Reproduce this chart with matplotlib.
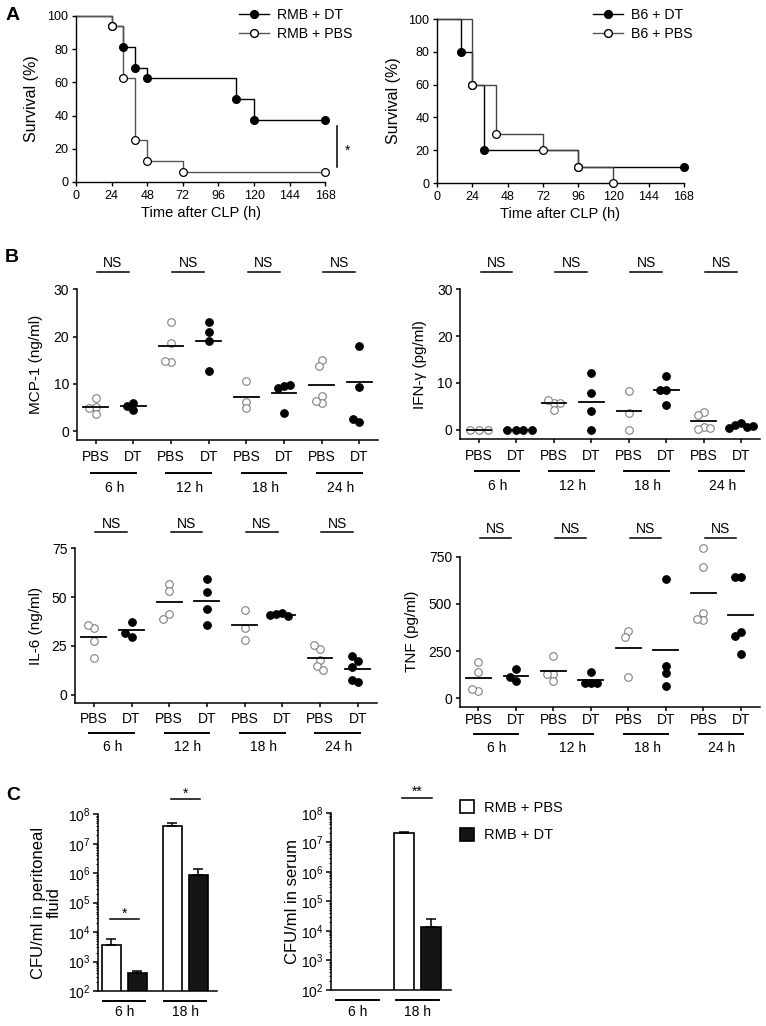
import numpy as np
import matplotlib
matplotlib.use('Agg')
import matplotlib.pyplot as plt
from matplotlib.lines import Line2D
from matplotlib.patches import Patch
import matplotlib.transforms as mtransforms
from matplotlib.ticker import LogLocator, NullFormatter, LogFormatterMathtext

plt.rcParams['font.family'] = ['Liberation Sans', 'DejaVu Sans']
plt.rcParams['mathtext.fontset'] = 'custom'
plt.rcParams['mathtext.rm'] = 'Liberation Sans'
plt.rcParams['mathtext.default'] = 'regular'

# ---------------- DATA ----------------
# Panel A: Kaplan-Meier survival (time h, survival %)
surv_xticks = [0, 24, 48, 72, 96, 120, 144, 168]
rmb_dt_t = [0, 24, 32, 40, 48, 108, 120, 168]
rmb_dt_s = [100, 93.75, 81.25, 68.75, 62.5, 50, 37.5, 37.5]
rmb_pbs_t = [0, 24, 32, 40, 48, 72, 168]
rmb_pbs_s = [100, 93.75, 62.5, 25, 12.5, 6.25, 6.25]
b6_dt_t = [0, 16, 24, 32, 96, 168]
b6_dt_s = [100, 80, 60, 20, 10, 10]
b6_pbs_t = [0, 24, 40, 72, 96, 120]
b6_pbs_s = [100, 60, 30, 20, 10, 0]

# Panel B: cytokines, per time point
time_labels = ['6 h', '12 h', '18 h', '24 h']
group_labels = ['PBS', 'DT']

mcp_pbs = [[7.0, 5.0, 4.8, 3.5], [23.0, 18.6, 14.6, 14.9], [10.6, 6.1, 4.8], [15.0, 13.8, 7.4, 6.0, 6.3]]
mcp_dt = [[6.0, 4.5, 5.3], [21.0, 23.0, 19.0, 12.8], [9.6, 9.1, 9.8, 3.8], [18.0, 9.3, 2.0, 2.5]]
mcp_mean_pbs = [5.1, 17.9, 7.3, 9.7]
mcp_mean_dt = [5.2, 19.1, 8.1, 10.4]

ifn_pbs = [[0, 0, 0], [5.7, 6.4, 5.6, 4.3], [8.2, 3.6, 0.0], [3.8, 3.2, 0.6, 0.1, 0.4]]
ifn_dt = [[0, 0, 0, 0], [12.2, 7.8, 3.9, 0.0], [8.4, 11.4, 8.4, 5.3], [1.4, 0.9, 0.6, 0.3, 0.8]]
ifn_mean_pbs = [0.0, 5.7, 3.9, 1.8]
ifn_mean_dt = [0.0, 6.0, 8.4, 0.85]

il6_pbs = [[33.9, 35.9, 27.6, 18.5], [56.6, 53.2, 41.2, 38.5], [43.3, 33.9, 28.2], [23.1, 25.2, 17.7, 14.6, 12.5]]
il6_dt = [[37.3, 29.3, 31.4], [59.0, 52.6, 44.1, 35.9], [42.0, 41.5, 40.5, 40.8], [17.0, 19.6, 14.3, 6.2, 7.4]]
il6_mean_pbs = [29.3, 47.5, 35.9, 18.9]
il6_mean_dt = [33.0, 48.1, 41.0, 12.9]

tnf_pbs = [[191, 141, 40, 48], [226, 129, 129, 93], [358, 326, 111], [794, 697, 453, 415, 419]]
tnf_dt = [[153, 93, 111], [138, 79, 79, 79], [632, 173, 136, 67], [644, 644, 353, 332, 235]]
tnf_mean_pbs = [106, 146, 268, 559]
tnf_mean_dt = [120, 97, 256, 441]

# Panel C: CFU (6 h, 18 h)
cfu_times = ['6 h', '18 h']
perit_pbs = [3.6e3, 3.9e7]
perit_pbs_sem = [2.1e3, 1.1e7]
perit_dt = [4.2e2, 8.9e5]
perit_dt_sem = [0.6e2, 5.1e5]
serum_pbs = [np.nan, 2.0e7]
serum_pbs_sem = [np.nan, 0.3e7]
serum_dt = [np.nan, 1.4e4]
serum_dt_sem = [np.nan, 1.1e4]

# ---------------- FIGURE ----------------
W, H = 766, 1026
fig = plt.figure(figsize=(W / 100, H / 100), dpi=100)


def box(x0, y0, x1, y1):
    return [x0 / W, 1 - y1 / H, (x1 - x0) / W, (y1 - y0) / H]


def style(ax, lw=1.1, fs=9):
    for s in ['top', 'right']:
        ax.spines[s].set_visible(False)
    for s in ['left', 'bottom']:
        ax.spines[s].set_linewidth(lw)
    ax.tick_params(direction='out', length=3, width=lw, labelsize=fs, pad=2.5)


# ---- Panel A ----
def survival(bx, series, ylabel_x):
    ax = fig.add_axes(box(*bx))
    style(ax, lw=1.0, fs=9)
    for t, s, mfc, col in series:
        ax.step(t, s, where='post', color=col, lw=1.0, clip_on=False, zorder=2)
        ax.plot(t[1:], s[1:], 'o', ms=5.6, mfc=mfc, mec='black', mew=0.9,
                clip_on=False, zorder=3)
    ax.set_xlim(0, 168)
    ax.set_ylim(0, 100)
    ax.set_xticks(surv_xticks)
    ax.set_yticks([0, 20, 40, 60, 80, 100])
    ax.set_xlabel('Time after CLP (h)', fontsize=10.5, labelpad=3)
    ax.set_ylabel('Survival (%)', fontsize=11.5)
    wpx = bx[2] - bx[0]
    ax.yaxis.set_label_coords((ylabel_x - bx[0]) / wpx, 0.5)
    return ax


axA1 = survival((76, 16, 325.3, 182),
                [(rmb_dt_t, rmb_dt_s, 'black', 'black'),
                 (rmb_pbs_t, rmb_pbs_s, 'white', '#555555')], 39)
axA2 = survival((437, 19, 684, 183),
                [(b6_dt_t, b6_dt_s, 'black', 'black'),
                 (b6_pbs_t, b6_pbs_s, 'white', '#444444')], 401)

# significance bar in A left
trA = axA1.transAxes
axA1.plot([1.045, 1.045], [(182 - 126) / 166, (182 - 167) / 166], transform=trA,
          color='black', lw=1.1, clip_on=False)
axA1.text(1.09, (182 - 151) / 166, '*', transform=trA, ha='center', va='center',
          fontsize=10)


def surv_legend(labels, x_px, y_px):
    hs = [Line2D([0], [0], color='black', lw=1.0, marker='o', ms=5.6, mfc='black', mec='black'),
          Line2D([0], [0], color='#555555', lw=1.0, marker='o', ms=5.6, mfc='white', mec='black')]
    fig.legend(hs, labels, loc='upper left', bbox_to_anchor=(x_px / W, 1 - y_px / H),
               frameon=False, fontsize=10.2, handlelength=2.1, handletextpad=0.6,
               labelspacing=0.35, borderpad=0, borderaxespad=0)


surv_legend(['RMB + DT', 'RMB + PBS'], 239, 8)
surv_legend(['B6 + DT', 'B6 + PBS'], 593, 8)


# ---- Panel B ----
def swarm_x(ax, xc, vals, diam):
    td = ax.transData
    cx = td.transform((xc, 0))[0]
    placed, xs = [], []
    for v in vals:
        py = td.transform((xc, v))[1]
        px = cx
        for k in [0, -1, 1, -2, 2, -3, 3, -4, 4, -5, 5]:
            px = cx + k * diam * 0.4
            if all((px - a) ** 2 + (py - b) ** 2 >= (0.8 * diam) ** 2 for a, b in placed):
                break
        placed.append((px, py))
        xs.append(td.inverted().transform((px, py))[0])
    return xs


def dotplot(bx, pbs, dt, mp, md, ylim, yticks, ylabel, offs, ylabel_x):
    ax = fig.add_axes(box(*bx))
    style(ax, lw=1.1, fs=10)
    hpx = bx[3] - bx[1]
    wpx = bx[2] - bx[0]
    ax.set_xlim(-0.5, 7.5)
    ax.set_ylim(*ylim)
    ax.set_yticks(yticks)
    pos = np.arange(8)
    ax.set_xticks(pos, labels=group_labels * 4)
    ax.tick_params(axis='x', pad=offs[0])
    ax.set_ylabel(ylabel, fontsize=11)
    ax.yaxis.set_label_coords((ylabel_x - bx[0]) / wpx, 0.5)
    diam = 7.6
    ms = diam * 0.72
    tr = mtransforms.blended_transform_factory(ax.transData, ax.transAxes)
    for g in range(4):
        xp, xd = 2 * g, 2 * g + 1
        xs = swarm_x(ax, xp, pbs[g], diam)
        ax.plot(xs, pbs[g], 'o', ms=ms, mfc='white', mec='#808080', mew=0.8,
                ls='none', clip_on=False, zorder=3)
        xs = swarm_x(ax, xd, dt[g], diam)
        ax.plot(xs, dt[g], 'o', ms=ms, mfc='black', mec='black', mew=0.8,
                ls='none', clip_on=False, zorder=3)
        ax.plot([xp - 0.33, xp + 0.33], [mp[g]] * 2, color='black', lw=1.3, zorder=4)
        ax.plot([xd - 0.33, xd + 0.33], [md[g]] * 2, color='black', lw=1.3, zorder=4)
        c = xp + 0.46
        ax.plot([c - 0.42, c + 0.42], [1 + offs[3] / hpx] * 2, transform=tr,
                color='black', lw=1.1, clip_on=False)
        ax.text(c, 1 + offs[4] / hpx, 'NS', transform=tr, ha='center', va='center',
                fontsize=10)
        ax.plot([xp - 0.12, xp + 1.06], [-offs[1] / hpx] * 2, transform=tr,
                color='black', lw=1.4, clip_on=False)
        ax.text(xp + 0.5, -offs[2] / hpx, time_labels[g], transform=tr, ha='center',
                va='center', fontsize=10)
    return ax


dotplot((76.7, 289.3, 378.3, 440), mcp_pbs, mcp_dt, mcp_mean_pbs, mcp_mean_dt,
        (-1.9, 30), [0, 10, 20, 30], 'MCP-1 (ng/ml)', (4.5, 33, 47.5, 17, 26), 43)
dotplot((460.3, 289.3, 760, 439), ifn_pbs, ifn_dt, ifn_mean_pbs, ifn_mean_dt,
        (-2.0, 30), [0, 10, 20, 30], 'IFN-γ (pg/ml)', (4.5, 32, 47.5, 17, 26), 427)
dotplot((75, 548.3, 376.5, 703.3), il6_pbs, il6_dt, il6_mean_pbs, il6_mean_dt,
        (-4.5, 75), [0, 25, 50, 75], 'IL-6 (ng/ml)', (3.5, 30, 44, 16, 24), 43)
dotplot((459.7, 556.7, 759.5, 706.7), tnf_pbs, tnf_dt, tnf_mean_pbs, tnf_mean_dt,
        (-44.5, 750), [0, 250, 500, 750], 'TNF (pg/ml)', (1.5, 27, 41, 19, 28), 419)


# ---- Panel C ----
def cfu(bx, pbs, pbs_sem, dt, dt_sem, centers, xlim, ylabel, stars, ylabel_x):
    ax = fig.add_axes(box(*bx))
    style(ax, lw=1.1, fs=10)
    hpx = bx[3] - bx[1]
    wpx = bx[2] - bx[0]
    ax.set_yscale('log')
    ax.set_xlim(*xlim)
    for g in range(2):
        for val, sem, off, fc in [(pbs[g], pbs_sem[g], -0.5, 'white'),
                                  (dt[g], dt_sem[g], 0.5, '#151515')]:
            if np.isnan(val):
                continue
            x = centers[g] + off
            ax.bar(x, val, width=0.73, color=fc, edgecolor='black', lw=1.2, zorder=2)
            ax.errorbar(x, val, yerr=[[0], [sem]], fmt='none', ecolor='black',
                        elinewidth=1.1, capsize=3.5, capthick=1.1, zorder=3)
    ax.set_ylim(1e2, 1e8)
    ax.yaxis.set_major_locator(LogLocator(base=10, numticks=10))
    ax.yaxis.set_major_formatter(LogFormatterMathtext())
    ax.yaxis.set_minor_locator(LogLocator(base=10, subs=np.arange(2, 10), numticks=20))
    ax.yaxis.set_minor_formatter(NullFormatter())
    ax.tick_params(axis='y', which='major', length=3.5, pad=1.5)
    ax.tick_params(axis='y', which='minor', length=1.8, width=0.8)
    ax.set_xticks([])
    ax.set_ylabel(ylabel, fontsize=12, linespacing=1.05)
    ax.yaxis.set_label_coords((ylabel_x - bx[0]) / wpx, 0.5)
    tr = mtransforms.blended_transform_factory(ax.transData, ax.transAxes)
    for g in range(2):
        ax.plot([centers[g] - 0.8, centers[g] + 0.8], [-10 / hpx] * 2, transform=tr,
                color='black', lw=1.4, clip_on=False)
        ax.text(centers[g], -21.5 / hpx, cfu_times[g], transform=tr, ha='center',
                va='center', fontsize=10)
    for g, sym, ly in stars:
        yl = (bx[3] - ly) / hpx
        ax.plot([centers[g] - 0.55, centers[g] + 0.55], [yl] * 2, transform=tr,
                color='black', lw=1.1, clip_on=False)
        ax.text(centers[g], yl + 6 / hpx, sym, transform=tr, ha='center', va='center',
                fontsize=10)
    return ax


cfu((97.7, 814.3, 216.7, 991), perit_pbs, perit_pbs_sem, perit_dt, perit_dt_sem,
    [0, 2.34], (-1.02, 3.55), 'CFU/ml in peritoneal\nfluid', [(0, '*', 919.3), (1, '*', 799.3)], 62)
cfu((330.7, 812.7, 451.3, 990), serum_pbs, serum_pbs_sem, serum_dt, serum_dt_sem,
    [0, 2.2], (-1.0, 3.46), 'CFU/ml in serum', [(1, '**', 797.7)], 300)

hs = [Patch(facecolor='white', edgecolor='black', lw=1.2),
      Patch(facecolor='#151515', edgecolor='black', lw=1.2)]
fig.legend(hs, ['RMB + PBS', 'RMB + DT'], loc='upper left',
           bbox_to_anchor=(459.7 / W, 1 - 800 / H), frameon=False, fontsize=10.5,
           handlelength=1.0, handleheight=1.0, handletextpad=0.7, labelspacing=0.9,
           borderpad=0, borderaxespad=0)

# Panel letters
for letter, xp, yp in [('A', 6, 15), ('B', 5, 257), ('C', 6, 795)]:
    fig.text(xp / W, 1 - yp / H, letter, fontsize=14, fontweight='bold',
             ha='left', va='center')

fig.savefig('out.png', dpi=100)
